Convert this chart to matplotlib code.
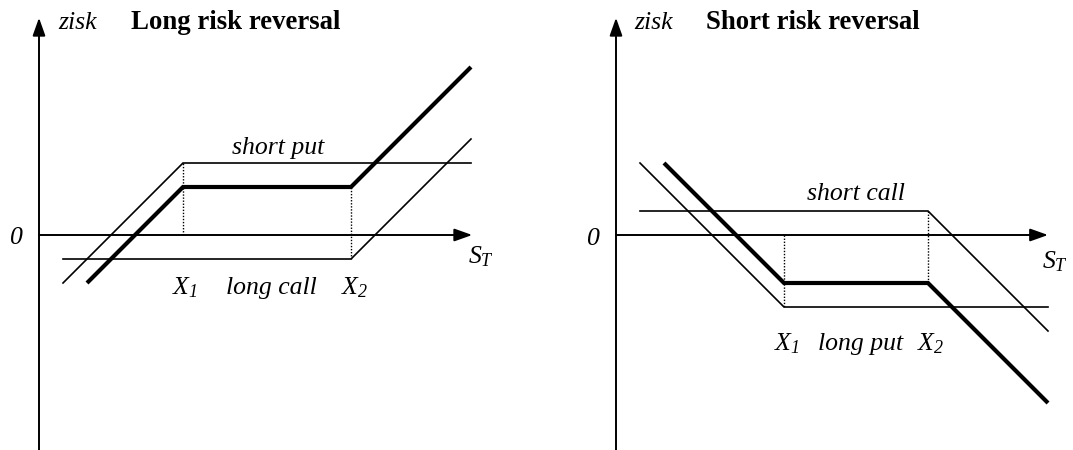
import matplotlib.pyplot as plt

plt.rcParams['font.family'] = ['Liberation Serif', 'DejaVu Serif']
plt.rcParams['mathtext.fontset'] = 'custom'
plt.rcParams['mathtext.it'] = 'Liberation Serif:italic'
plt.rcParams['mathtext.rm'] = 'Liberation Serif:italic'

# long risk reversal (payoff units)
lrr_x1, lrr_x2 = 6, 13
lrr_short_put_x = [1, 6, 18]
lrr_short_put_y = [-2, 3, 3]
lrr_long_call_x = [1, 13, 18]
lrr_long_call_y = [-1, -1, 4]
lrr_total_x = [2, 6, 13, 18]
lrr_total_y = [-2, 2, 2, 7]

# short risk reversal
srr_x1, srr_x2 = 7, 13
srr_short_call_x = [1, 13, 18]
srr_short_call_y = [1, 1, -4]
srr_long_put_x = [1, 7, 18]
srr_long_put_y = [3, -3, -3]
srr_total_x = [2, 7, 13, 18]
srr_total_y = [3, -2, -2, -7]

W, H = 1073, 450
PX = 24.0  # pixels per payoff unit
FS = 18.5
FS_T = 19.3

fig = plt.figure(figsize=(W / 100, H / 100), dpi=100)


def make_axes(left_px, right_px, ox, oy):
    ax = fig.add_axes([left_px / W, 0, (right_px - left_px) / W, 1])
    ax.set_xlim((left_px - ox) / PX, (right_px - ox) / PX)
    ax.set_ylim((oy - H) / PX, oy / PX)
    ax.axis('off')
    return ax


def axes_arrows(ax, xtip, ytip, ybot):
    st = dict(arrowstyle='-|>,head_length=0.9,head_width=0.32', color='black',
              lw=1.4, shrinkA=0, shrinkB=0, mutation_scale=12)
    ax.annotate('', xy=(xtip, 0), xytext=(0, 0), arrowprops=st)
    ax.annotate('', xy=(0, ytip), xytext=(0, ybot), arrowprops=st)


def thin(ax, x, y):
    ax.plot(x, y, color='black', lw=1.2, solid_joinstyle='miter')


def thick(ax, x, y):
    ax.plot(x, y, color='black', lw=3.0, solid_joinstyle='miter',
            solid_capstyle='butt')


def dotted(ax, x, y0, y1):
    ax.plot([x, x], [y0, y1], color='black', lw=1.0, linestyle=(0, (1, 1.2)))


# ---- Long risk reversal
ax1 = make_axes(0, 536, 39, 235)
axes_arrows(ax1, 18.05, 9.05, -9.0)
thin(ax1, lrr_short_put_x, lrr_short_put_y)
thin(ax1, lrr_long_call_x, lrr_long_call_y)
thick(ax1, lrr_total_x, lrr_total_y)
dotted(ax1, lrr_x1, 0, 3)
dotted(ax1, lrr_x2, -1, 2)
ax1.text(-0.92, -0.38, '0', fontsize=FS, style='italic', ha='center', va='baseline')
ax1.text(1.6, 8.6, 'zisk', fontsize=FS, style='italic', ha='center', va='baseline')
ax1.text(8.2, 8.6, 'Long risk reversal', fontsize=FS_T, weight='bold', ha='center', va='baseline')
ax1.text(9.96, 3.38, 'short put', fontsize=FS, style='italic', ha='center', va='baseline')
ax1.text(6.08, -2.46, r'$X_1$', fontsize=FS, ha='center', va='baseline')
ax1.text(9.7, -2.46, 'long call', fontsize=FS, style='italic', ha='center', va='baseline')
ax1.text(13.17, -2.46, r'$X_2$', fontsize=FS, ha='center', va='baseline')
ax1.text(18.4, -1.17, r'$S_T$', fontsize=FS, ha='center', va='baseline')

# ---- Short risk reversal
ax2 = make_axes(536, 1073, 616, 235)
axes_arrows(ax2, 18.0, 9.05, -9.0)
thin(ax2, srr_short_call_x, srr_short_call_y)
thin(ax2, srr_long_put_x, srr_long_put_y)
thick(ax2, srr_total_x, srr_total_y)
dotted(ax2, srr_x1, 0, -3)
dotted(ax2, srr_x2, 1, -2)
ax2.text(-0.96, -0.42, '0', fontsize=FS, style='italic', ha='center', va='baseline')
ax2.text(1.58, 8.6, 'zisk', fontsize=FS, style='italic', ha='center', va='baseline')
ax2.text(8.2, 8.6, 'Short risk reversal', fontsize=FS_T, weight='bold', ha='center', va='baseline')
ax2.text(10.0, 1.46, 'short call', fontsize=FS, style='italic', ha='center', va='baseline')
ax2.text(7.12, -4.8, r'$X_1$', fontsize=FS, ha='center', va='baseline')
ax2.text(10.2, -4.8, 'long put', fontsize=FS, style='italic', ha='center', va='baseline')
ax2.text(13.1, -4.8, r'$X_2$', fontsize=FS, ha='center', va='baseline')
ax2.text(18.3, -1.38, r'$S_T$', fontsize=FS, ha='center', va='baseline')

plt.savefig('out.png', dpi=100)
